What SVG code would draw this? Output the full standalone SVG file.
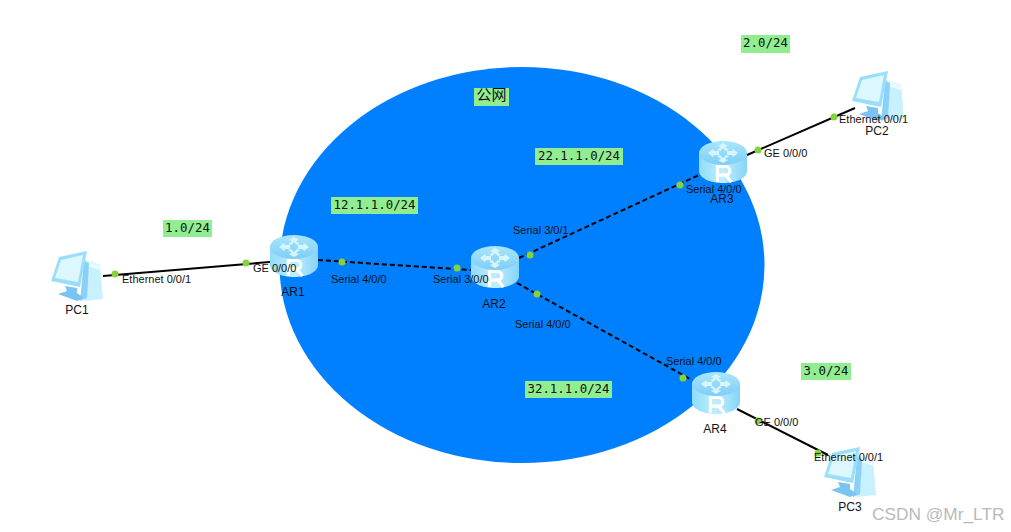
<svg xmlns="http://www.w3.org/2000/svg" width="1011" height="532" viewBox="0 0 1011 532">
<style>
.lbl{font-family:"Liberation Sans",Arial,sans-serif;font-size:11px;fill:#111}
.name{font-family:"Liberation Sans",Arial,sans-serif;font-size:12px;fill:#111;text-anchor:middle}
.note{font-family:"DejaVu Sans Mono",monospace;font-size:12.400px;fill:#111;text-anchor:middle}
.nb{fill:#90ee90}
.solid{stroke:#000;stroke-width:2;fill:none}
.dash{stroke:#000;stroke-width:2;fill:none;stroke-dasharray:5 3}
.dot{fill:#86d23c}
</style>
<defs>
<linearGradient id="rb" x1="0" x2="1" y1="0" y2="0"><stop offset="0" stop-color="#8fdcfb"/><stop offset=".5" stop-color="#c0effd"/><stop offset="1" stop-color="#86d3fa"/></linearGradient>
<linearGradient id="rt" x1="0" x2="0" y1="0" y2="1"><stop offset="0" stop-color="#a8e6fc"/><stop offset="1" stop-color="#80cdf6"/></linearGradient>
<g id="router">
<path d="M0 12V30C0 37 11 42 24 42S48 37 48 30V12Z" fill="url(#rb)"/>
<ellipse cx="24" cy="12" rx="24" ry="12" fill="url(#rt)"/>
<path d="M24 2L29 5 26 6 30 9 27 10 24 7 21 10 18 9 22 6 19 5ZM24 22L19 19 22 18 18 15 21 14 24 17 27 14 30 15 26 18 29 19ZM9 12L14 8 15 10 20 10 20 14 15 14 14 16ZM39 12L34 8 33 10 28 10 28 14 33 14 34 16Z" fill="#d6f5ff"/>
<path d="M18.500 41V25.500h8a4.300 4.300 0 0 1 0 8.600h-8M26.500 34l6 7" fill="none" stroke="#fff" stroke-width="3.200"/>
</g>
<g id="pc">
<path d="M33 8L50 14 53 48 34 50Z" fill="#c9f0fd"/>
<path d="M37 10L50 15V19L37 15Z" fill="#e8fbff"/>
<path d="M34 10L39 12 37 47 30 50Z" fill="#8ad0f8"/>
<path d="M9 6L37 0 30 36 1 30Z" fill="#9bdefb"/>
<path d="M11 9L33 4 28 31 5 27Z" fill="#dcf7fe"/>
<path d="M15 35L27 37 27 42 34 47 27 50 8 43 17 40Z" fill="#7ac4f4"/>
</g>
</defs>
<g id="background">
<ellipse cx="522" cy="265" rx="242.500" ry="198" fill="#0080ff"/>
</g>
<g id="connectors">
<path class="solid" d="M103 276L270 262"/>
<path class="dash" d="M318 260L471 270"/>
<path class="dash" d="M519 258L699 175"/>
<path class="dash" d="M517 283L692 380"/>
<path class="solid" d="M747 155L855 108"/>
<path class="solid" d="M737 409L828 455"/>
<circle class="dot" cx="115" cy="274" r="3.500"/>
<circle class="dot" cx="246" cy="263" r="3.500"/>
<circle class="dot" cx="342" cy="262" r="3.500"/>
<circle class="dot" cx="457" cy="268" r="3.500"/>
<circle class="dot" cx="530" cy="255" r="3.500"/>
<circle class="dot" cx="680" cy="185" r="3.500"/>
<circle class="dot" cx="537" cy="294" r="3.500"/>
<circle class="dot" cx="683" cy="378" r="3.500"/>
<circle class="dot" cx="758" cy="150" r="3.500"/>
<circle class="dot" cx="834" cy="117" r="3.500"/>
<circle class="dot" cx="758" cy="421" r="3.500"/>
<circle class="dot" cx="818" cy="453" r="3.500"/>
</g>
<g id="PC1"><use href="#pc" x="50" y="251"/><text class="name" x="77" y="314">PC1</text></g>
<g id="PC2"><use href="#pc" x="851" y="71"/><text class="name" x="877" y="135">PC2</text></g>
<g id="PC3"><use href="#pc" x="823" y="447"/><text class="name" x="850" y="511">PC3</text></g>
<g id="AR1"><use href="#router" x="270" y="235"/><text class="name" x="293" y="296">AR1</text></g>
<g id="AR2"><use href="#router" x="471" y="246"/><text class="name" x="494" y="308">AR2</text></g>
<g id="AR3"><use href="#router" x="699" y="141"/><text class="name" x="722" y="203">AR3</text></g>
<g id="AR4"><use href="#router" x="692" y="372"/><text class="name" x="715" y="433">AR4</text></g>
<g id="port-labels">
<text class="lbl" x="122" y="283">Ethernet 0/0/1</text>
<text class="lbl" x="253" y="272">GE 0/0/0</text>
<text class="lbl" x="331" y="283">Serial 4/0/0</text>
<text class="lbl" x="433" y="283">Serial 3/0/0</text>
<text class="lbl" x="513" y="234">Serial 3/0/1</text>
<text class="lbl" x="515" y="328">Serial 4/0/0</text>
<text class="lbl" x="686" y="193">Serial 4/0/0</text>
<text class="lbl" x="764" y="157">GE 0/0/0</text>
<text class="lbl" x="839" y="123">Ethernet 0/0/1</text>
<text class="lbl" x="666" y="365">Serial 4/0/0</text>
<text class="lbl" x="755" y="426">GE 0/0/0</text>
<text class="lbl" x="814" y="461">Ethernet 0/0/1</text>
</g>
<g id="note-public"><rect class="nb" x="474" y="88" width="35" height="18"/><text x="491.500" y="100" text-anchor="middle" font-family="'Noto Sans CJK SC',sans-serif" font-size="15" fill="#111">公网</text></g>
<g id="note-22"><rect class="nb" x="535" y="148" width="88" height="17"/><text class="note" x="579" y="160">22.1.1.0/24</text></g>
<g id="note-12"><rect class="nb" x="331" y="197" width="87" height="17"/><text class="note" x="374.500" y="209">12.1.1.0/24</text></g>
<g id="note-32"><rect class="nb" x="525" y="381" width="87" height="17"/><text class="note" x="568.500" y="393">32.1.1.0/24</text></g>
<g id="note-1"><rect class="nb" x="163" y="220" width="49" height="17"/><text class="note" x="187.500" y="232">1.0/24</text></g>
<g id="note-2"><rect class="nb" x="741" y="35" width="49" height="18"/><text class="note" x="765.500" y="47">2.0/24</text></g>
<g id="note-3"><rect class="nb" x="801" y="363" width="50" height="17"/><text class="note" x="826" y="375">3.0/24</text></g>
<text x="872" y="520" font-family="'Liberation Sans',Arial,sans-serif" font-size="17.300" fill="#b9b9b9">CSDN @Mr_LTR</text>
</svg>
